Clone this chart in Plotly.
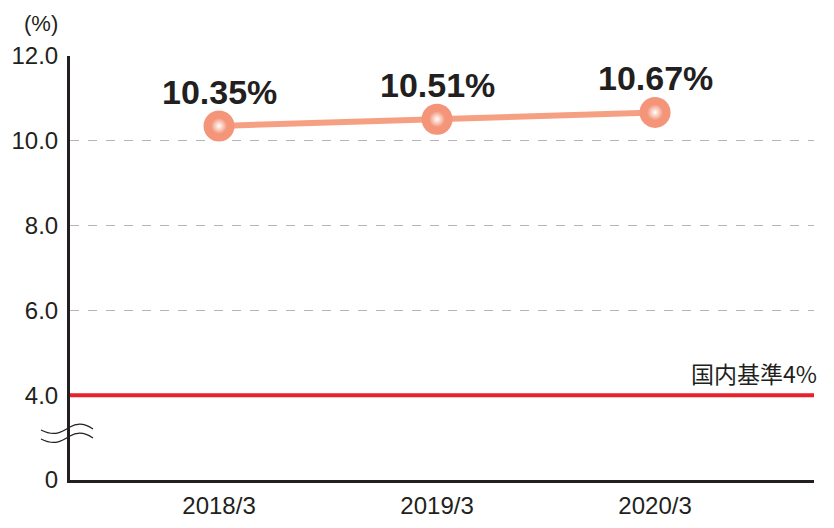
import plotly.graph_objects as go

categories = ["2018/3", "2019/3", "2020/3"]
ratios = [10.35, 10.51, 10.67]
ytick_vals = [2, 4, 6, 8, 10, 12]
ytick_text = ["0", "4.0", "6.0", "8.0", "10.0", "12.0"]
standard_value = 4.0
standard_label = "国内基準4%"

OFF = 8  # default page body margin
W, H = 834 - 2 * OFF, 528 - 2 * OFF
# target screen geometry of plot area: left 70, right 814, top 56, bottom 480
L, R, T, B = 70 - OFF, W - (814 - OFF), 56 - OFF, H - (480 - OFF)
PW, PH = W - L - R, H - T - B

def px2paper(px, py):
    fx = (px - OFF - L) / PW
    fy = (H - B - (py - OFF)) / PH
    return fx, fy

xs = list(range(len(categories)))
font_main = "Liberation Sans, Arial, Helvetica, sans-serif"
txt = "#231f20"

fig = go.Figure()
fig.add_trace(go.Scatter(
    x=xs, y=ratios, mode="lines+markers",
    line=dict(color="#F6A083", width=6),
    marker=dict(size=31, color="#F4957A", line=dict(width=0)),
    hoverinfo="skip", showlegend=False))
fig.add_trace(go.Scatter(
    x=xs, y=ratios, mode="markers",
    marker=dict(size=16, color="#F4957A", line=dict(width=0),
                gradient=dict(type="radial", color="#FFFFFF")),
    hoverinfo="skip", showlegend=False))

for x, v in zip(xs, ratios):
    fig.add_annotation(x=x, y=v, text=f"<b>{v:.2f}%</b>", showarrow=False,
                       yshift=34, font=dict(family=font_main, size=34, color=txt))

# standard line
fig.add_shape(type="line", xref="paper", yref="y", x0=0, x1=1,
              y0=standard_value, y1=standard_value,
              line=dict(color="#E8212B", width=4))
fig.add_annotation(xref="paper", yref="y", x=1, y=standard_value, xanchor="right",
                   yanchor="bottom", xshift=5, yshift=3, text=standard_label,
                   showarrow=False,
                   font=dict(family="Noto Sans CJK JP, sans-serif", size=23, color=txt))

# (%) label
fx, fy = px2paper(41, 23)
fig.add_annotation(xref="paper", yref="paper", x=fx, y=fy, text="(%)",
                   xanchor="center", yanchor="middle",
                   showarrow=False, font=dict(family=font_main, size=22, color=txt))

# axis break waves
for dy in (0, 9):
    pts = [(41, 430 + dy), (55, 437 + dy), (62, 432 + dy), (70, 427 + dy),
           (78, 422 + dy), (86, 424 + dy), (93, 429 + dy)]
    pp = [px2paper(*p) for p in pts]
    path = "M {},{} C {},{} {},{} {},{} C {},{} {},{} {},{}".format(
        pp[0][0], pp[0][1], pp[1][0], pp[1][1], pp[2][0], pp[2][1], pp[3][0], pp[3][1],
        pp[4][0], pp[4][1], pp[5][0], pp[5][1], pp[6][0], pp[6][1])
    fig.add_shape(type="path", xref="paper", yref="paper", path=path,
                  line=dict(color="#231f20", width=1.2))

fig.update_layout(
    width=W, height=H, margin=dict(l=L, r=R, t=T, b=B, autoexpand=False),
    paper_bgcolor="white", plot_bgcolor="white",
    font=dict(family=font_main, color=txt),
    xaxis=dict(range=[-0.6835, 2.729], tickvals=xs, ticktext=categories,
               showgrid=False, zeroline=False, showline=True, linecolor="#231f20",
               linewidth=3, ticks="", tickfont=dict(size=24, color=txt),
               ticklabelstandoff=2, automargin=False),
    yaxis=dict(range=[2, 12], tickvals=ytick_vals, ticktext=ytick_text,
               showgrid=True, gridcolor="#b5b5b5", griddash="dash", gridwidth=1,
               zeroline=False, showline=True, linecolor="#231f20", linewidth=3,
               ticks="", tickfont=dict(size=24, color=txt), ticklabelstandoff=4,
               automargin=False),
)
fig.write_html("out.html")
